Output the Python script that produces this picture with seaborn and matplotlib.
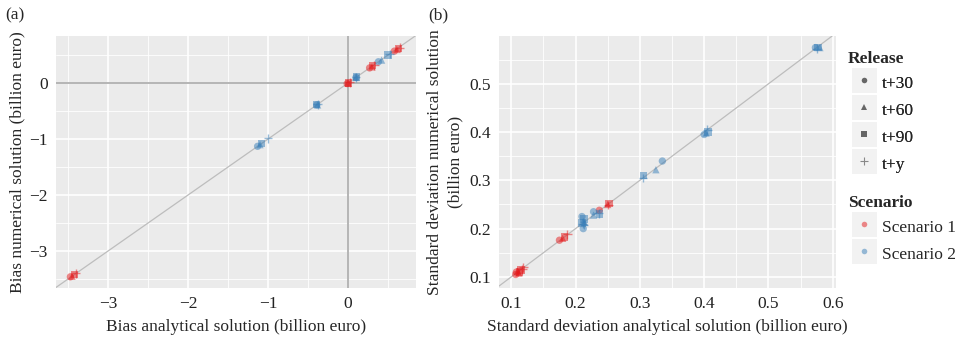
import matplotlib
matplotlib.use("Agg")
import matplotlib.pyplot as plt
import seaborn as sns
import pandas as pd
import numpy as np
from matplotlib.lines import Line2D
from matplotlib.legend_handler import HandlerTuple
from matplotlib.ticker import MultipleLocator

# ---------------- data ----------------
releases = ["t+30", "t+60", "t+90", "t+y"]
scenarios = ["Scenario 1", "Scenario 2"]

# Panel (a): bias
bias_analytical = [
    -3.47, -3.45, -3.42, -3.40,
    -0.01, 0.00, 0.01, 0.02,
    0.27, 0.30, 0.31, 0.33,
    0.58, 0.61, 0.63, 0.65,
    -1.13, -1.10, -1.08, -1.00,
    -0.39, -0.38, -0.39, -0.38,
    0.10, 0.10, 0.11, 0.10,
    0.38, 0.42, 0.50, 0.52,
]
bias_numerical = [
    -3.46, -3.45, -3.42, -3.40,
    -0.01, 0.00, 0.00, 0.01,
    0.27, 0.29, 0.31, 0.32,
    0.57, 0.60, 0.62, 0.63,
    -1.13, -1.10, -1.08, -0.99,
    -0.39, -0.39, -0.38, -0.38,
    0.10, 0.10, 0.11, 0.10,
    0.38, 0.41, 0.50, 0.52,
]
bias_release = releases * 8
bias_scenario = ["Scenario 1"] * 16 + ["Scenario 2"] * 16

# Panel (b): standard deviation
sd_analytical = [
    0.107, 0.110, 0.113, 0.117,
    0.108, 0.112, 0.115, 0.119,
    0.175, 0.180, 0.183, 0.187,
    0.237, 0.250, 0.252, 0.251,
    0.210, 0.212, 0.213, 0.211,
    0.212, 0.214, 0.210, 0.213,
    0.228, 0.228, 0.237, 0.236,
    0.335, 0.325, 0.306, 0.305,
    0.400, 0.403, 0.406, 0.405,
    0.573, 0.580, 0.577, 0.575,
]
sd_numerical = [
    0.105, 0.112, 0.110, 0.116,
    0.110, 0.108, 0.114, 0.120,
    0.176, 0.180, 0.183, 0.188,
    0.238, 0.250, 0.252, 0.249,
    0.225, 0.215, 0.220, 0.210,
    0.200, 0.213, 0.212, 0.208,
    0.235, 0.228, 0.230, 0.232,
    0.340, 0.322, 0.310, 0.305,
    0.395, 0.398, 0.400, 0.405,
    0.575, 0.575, 0.575, 0.573,
]
sd_release = releases * 10
sd_scenario = ["Scenario 1"] * 16 + ["Scenario 2"] * 24

bias_df = pd.DataFrame({"analytical": bias_analytical, "numerical": bias_numerical,
                        "Release": bias_release, "Scenario": bias_scenario})
sd_df = pd.DataFrame({"analytical": sd_analytical, "numerical": sd_numerical,
                      "Release": sd_release, "Scenario": sd_scenario})

# ---------------- style ----------------
sns.set_style("white")
plt.rcParams["font.family"] = ["Liberation Serif", "DejaVu Serif"]
plt.rcParams["axes.unicode_minus"] = True

palette = {"Scenario 1": "#E41A1C", "Scenario 2": "#377EB8"}
markers = {"t+30": "o", "t+60": "^", "t+90": "s", "t+y": "+"}
FS = 12.5

fig = plt.figure(figsize=(9.65, 3.4), dpi=100)
W, H = 965, 340
ax1 = fig.add_axes([56 / W, (H - 288) / H, 360 / W, 252 / H])
ax2 = fig.add_axes([499 / W, (H - 288) / H, 337 / W, 252 / H])


def style_axes(ax):
    ax.set_facecolor("#EBEBEB")
    for s in ax.spines.values():
        s.set_visible(False)
    ax.grid(True, which="major", color="white", lw=1.2)
    ax.grid(True, which="minor", color="white", lw=0.6)
    ax.set_axisbelow(True)
    ax.tick_params(which="major", length=3, width=0.8, color="#555555",
                   labelsize=FS, labelcolor="#222222", pad=3)
    ax.tick_params(which="minor", length=0)


def draw(ax, df):
    for rel in releases:
        sub = df[df["Release"] == rel]
        kw = dict(s=28, alpha=0.5)
        if markers[rel] == "+":
            kw.update(s=40, linewidth=1.0)
        else:
            kw.update(edgecolor="none")
        sns.scatterplot(data=sub, x="analytical", y="numerical", hue="Scenario",
                        palette=palette, marker=markers[rel], ax=ax,
                        legend=False, zorder=3, **kw)


# Panel (a)
style_axes(ax1)
ax1.axhline(0, color="#b5b5b5", lw=1.4, zorder=1.5)
ax1.axvline(0, color="#b5b5b5", lw=1.4, zorder=1.5)
ax1.axline((0, 0), slope=1, color="#bdbdbd", lw=0.9, zorder=2)
draw(ax1, bias_df)
ax1.set_xlim(-3.65, 0.85)
ax1.set_ylim(-3.66, 0.84)
ax1.xaxis.set_major_locator(MultipleLocator(1))
ax1.yaxis.set_major_locator(MultipleLocator(1))
ax1.xaxis.set_minor_locator(MultipleLocator(0.5))
ax1.yaxis.set_minor_locator(MultipleLocator(0.5))
ax1.set_xlabel("Bias analytical solution (billion euro)", fontsize=FS, labelpad=5)
ax1.set_ylabel("Bias numerical solution (billion euro)", fontsize=FS, labelpad=3)

# Panel (b)
style_axes(ax2)
ax2.axline((0.1, 0.1), slope=1, color="#bdbdbd", lw=0.9, zorder=2)
draw(ax2, sd_df)
ax2.set_xlim(0.081, 0.605)
ax2.set_ylim(0.077, 0.599)
ax2.xaxis.set_major_locator(MultipleLocator(0.1))
ax2.yaxis.set_major_locator(MultipleLocator(0.1))
ax2.xaxis.set_minor_locator(MultipleLocator(0.05))
ax2.yaxis.set_minor_locator(MultipleLocator(0.05))
ax2.set_xlabel("Standard deviation analytical solution (billion euro)", fontsize=FS,
               labelpad=5)
ax2.set_ylabel("Standard deviation numerical solution\n(billion euro)", fontsize=FS,
               linespacing=1.4, labelpad=4)

fig.text(5 / W, 1 - 15 / H, "(a)", fontsize=FS, va="center", ha="left")
fig.text(428 / W, 1 - 15 / H, "(b)", fontsize=FS, va="center", ha="left")

# ---------------- legends ----------------
def key_bg():
    return Line2D([], [], marker="s", ls="none", color="#F2F2F2", markersize=18,
                  markeredgewidth=0)


rel_handles = []
for rel in releases:
    m = markers[rel]
    if m == "+":
        h = Line2D([], [], marker="+", ls="none", color="#888888", markersize=6, mew=0.8)
    else:
        h = Line2D([], [], marker=m, ls="none", color="#666666", markersize=4,
                   markeredgewidth=0)
    rel_handles.append((key_bg(), h))

leg_kw = dict(loc="upper left", frameon=False, fontsize=FS,
              handlelength=1.45, handleheight=1.45, handletextpad=0.35,
              labelspacing=0.37, borderaxespad=0, borderpad=0,
              handler_map={tuple: HandlerTuple(ndivide=1, pad=0)})

fig.text(848 / W, 1 - 59 / H, "Release", fontsize=FS, fontweight="bold",
         va="center", ha="left")
fig.text(848 / W, 1 - 203 / H, "Scenario", fontsize=FS, fontweight="bold",
         va="center", ha="left")

leg1 = fig.legend(rel_handles, releases, bbox_to_anchor=(851 / W, 1 - 72 / H), **leg_kw)
sc_handles = [(key_bg(), Line2D([], [], marker="o", ls="none", color=palette[s],
                                alpha=0.5, markersize=4, markeredgewidth=0))
              for s in scenarios]
leg2 = fig.legend(sc_handles, scenarios, bbox_to_anchor=(851 / W, 1 - 216 / H), **leg_kw)
fig.add_artist(leg1)

fig.savefig("out.png", dpi=100)
